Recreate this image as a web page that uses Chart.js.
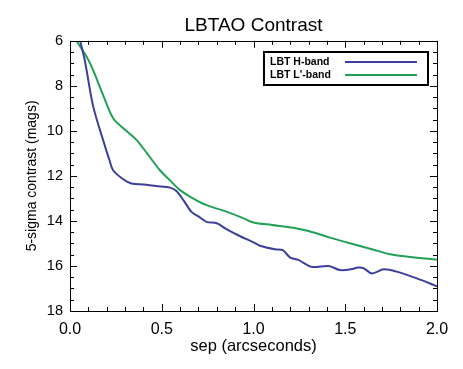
<!DOCTYPE html>
<html>
<head>
<meta charset="utf-8">
<script src="https://cdn.jsdelivr.net/npm/chart.js@4.4.0/dist/chart.umd.min.js"></script>
<style>
    html, body { margin: 0; padding: 0; background: #fff; }
    #wrap { width: 463px; height: 369px; }
</style>
</head>
<body>
<div id="wrap"><canvas id="contrastChart" width="463" height="369"></canvas></div>
<script>
// separation (arcsec) and 5-sigma contrast (mags)
const hSep = [0.055, 0.08, 0.126, 0.18, 0.215, 0.235, 0.29, 0.335, 0.40, 0.47, 0.545, 0.58, 0.62, 0.662, 0.70, 0.744, 0.80, 0.85, 0.925, 1.0, 1.035, 1.117, 1.16, 1.2, 1.244, 1.317, 1.41, 1.47, 1.53, 1.57, 1.60, 1.645, 1.71, 1.78, 1.89, 2.0];
const hMag = [6.0, 6.84, 8.9, 10.4, 11.3, 11.75, 12.15, 12.34, 12.38, 12.45, 12.52, 12.67, 13.1, 13.6, 13.8, 14.04, 14.1, 14.35, 14.67, 14.95, 15.1, 15.26, 15.3, 15.63, 15.73, 16.04, 16.0, 16.18, 16.15, 16.07, 16.1, 16.33, 16.15, 16.25, 16.55, 16.9];

const lSep = [0.035, 0.09, 0.126, 0.18, 0.235, 0.30, 0.362, 0.42, 0.49, 0.545, 0.598, 0.66, 0.744, 0.82, 0.889, 0.95, 1.0, 1.1, 1.217, 1.3, 1.417, 1.55, 1.65, 1.744, 1.85, 2.0];
const lMag = [6.0, 6.7, 7.3, 8.4, 9.44, 9.95, 10.4, 11.0, 11.75, 12.2, 12.62, 12.95, 13.3, 13.5, 13.7, 13.9, 14.07, 14.18, 14.3, 14.45, 14.74, 15.05, 15.27, 15.48, 15.6, 15.72];

const seriesLabels = ['LBT H-band', "LBT L'-band"];
const seriesColors = ['#3c3f9e', '#22a055'];

const xTicks = [0.0, 0.5, 1.0, 1.5, 2.0];
const yTicks = [6, 8, 10, 12, 14, 16, 18];

const toPoints = (xs, ys) => xs.map((x, i) => ({ x: x, y: ys[i] }));

// ticks pointing inward on all four sides + the frame
const frameTicks = {
    id: 'frameTicks',
    afterDraw(chart) {
        const { ctx, chartArea: a, scales } = chart;
        const xs = scales.x, ys = scales.y;
        ctx.save();
        ctx.strokeStyle = '#000';
        ctx.lineWidth = 1;
        // x ticks every 0.1, major every 0.5
        for (let i = 0; i <= 20; i++) {
            const v = i / 10;
            const px = Math.round(xs.getPixelForValue(v)) + 0.5;
            const len = (i % 5 === 0) ? 7 : 4;
            ctx.beginPath();
            ctx.moveTo(px, a.bottom); ctx.lineTo(px, a.bottom - len);
            ctx.moveTo(px, a.top); ctx.lineTo(px, a.top + len);
            ctx.stroke();
        }
        // y ticks every 0.5, major every 2
        for (let i = 0; i <= 24; i++) {
            const v = 6 + i * 0.5;
            const py = Math.round(ys.getPixelForValue(v)) + 0.5;
            const len = (i % 4 === 0) ? 7 : 4;
            ctx.beginPath();
            ctx.moveTo(a.left, py); ctx.lineTo(a.left + len, py);
            ctx.moveTo(a.right, py); ctx.lineTo(a.right - len, py);
            ctx.stroke();
        }
        ctx.strokeRect(Math.round(a.left) + 0.5, Math.round(a.top) + 0.5,
            Math.round(a.right - a.left), Math.round(a.bottom - a.top));

        // legend box inside the plot (top right)
        const bx = 264, by = 52, bw = 164, bh = 33;
        ctx.lineWidth = 2;
        ctx.strokeRect(bx, by, bw, bh);
        ctx.font = 'bold 10.5px "Liberation Sans", Arial, sans-serif';
        ctx.fillStyle = '#000';
        ctx.textBaseline = 'middle';
        chart.data.datasets.forEach((ds, i) => {
            const ty = by + 10 + i * 13;
            ctx.fillText(ds.label, bx + 6, ty);
            ctx.strokeStyle = ds.borderColor;
            ctx.lineWidth = 2;
            ctx.beginPath();
            ctx.moveTo(bx + 81, ty); ctx.lineTo(bx + 153, ty);
            ctx.stroke();
        });
        ctx.restore();
    }
};

document.addEventListener('DOMContentLoaded', () => {
    const canvas = document.getElementById('contrastChart');
    const font = '"Liberation Sans", Arial, sans-serif';

    new Chart(canvas.getContext('2d'), {
        type: 'line',
        data: {
            datasets: [
                {
                    label: seriesLabels[0],
                    data: toPoints(hSep, hMag),
                    borderColor: seriesColors[0],
                    borderWidth: 2,
                    pointRadius: 0,
                    tension: 0.3,
                    fill: false
                },
                {
                    label: seriesLabels[1],
                    data: toPoints(lSep, lMag),
                    borderColor: seriesColors[1],
                    borderWidth: 2,
                    pointRadius: 0,
                    tension: 0.3,
                    fill: false
                }
            ]
        },
        options: {
            responsive: false,
            animation: false,
            layout: { padding: { left: 0, right: 26, top: 0, bottom: 0 } },
            scales: {
                x: {
                    type: 'linear',
                    min: 0, max: 2,
                    afterBuildTicks: (s) => { s.ticks = xTicks.map(v => ({ value: v })); },
                    afterFit: (s) => { s.height = 58; },
                    grid: { display: false, drawTicks: false },
                    border: { display: false },
                    ticks: {
                        color: '#000',
                        padding: 9,
                        maxRotation: 0,
                        font: { family: font, size: 16 },
                        callback: (v) => Number(v).toFixed(1)
                    },
                    title: {
                        display: true,
                        text: 'sep (arcseconds)',
                        color: '#000',
                        font: { family: font, size: 16.5 },
                        padding: { top: 0, bottom: 13 }
                    }
                },
                y: {
                    type: 'linear',
                    reverse: true,
                    min: 6, max: 18,
                    afterBuildTicks: (s) => { s.ticks = yTicks.map(v => ({ value: v })); },
                    afterFit: (s) => { s.width = 70; },
                    grid: { display: false, drawTicks: false },
                    border: { display: false },
                    ticks: {
                        color: '#000',
                        padding: 7,
                        font: { family: font, size: 14.5 }
                    },
                    title: {
                        display: true,
                        text: '5-sigma contrast (mags)',
                        color: '#000',
                        font: { family: font, size: 14 },
                        padding: { top: 24, bottom: 0 }
                    }
                }
            },
            plugins: {
                legend: { display: false },
                tooltip: { enabled: false },
                title: {
                    display: true,
                    fullSize: false,
                    text: 'LBTAO Contrast',
                    color: '#000',
                    font: { family: font, size: 19, weight: 'normal' },
                    padding: { top: 14, bottom: 4 }
                }
            }
        },
        plugins: [frameTicks]
    });
});
</script>
</body>
</html>
